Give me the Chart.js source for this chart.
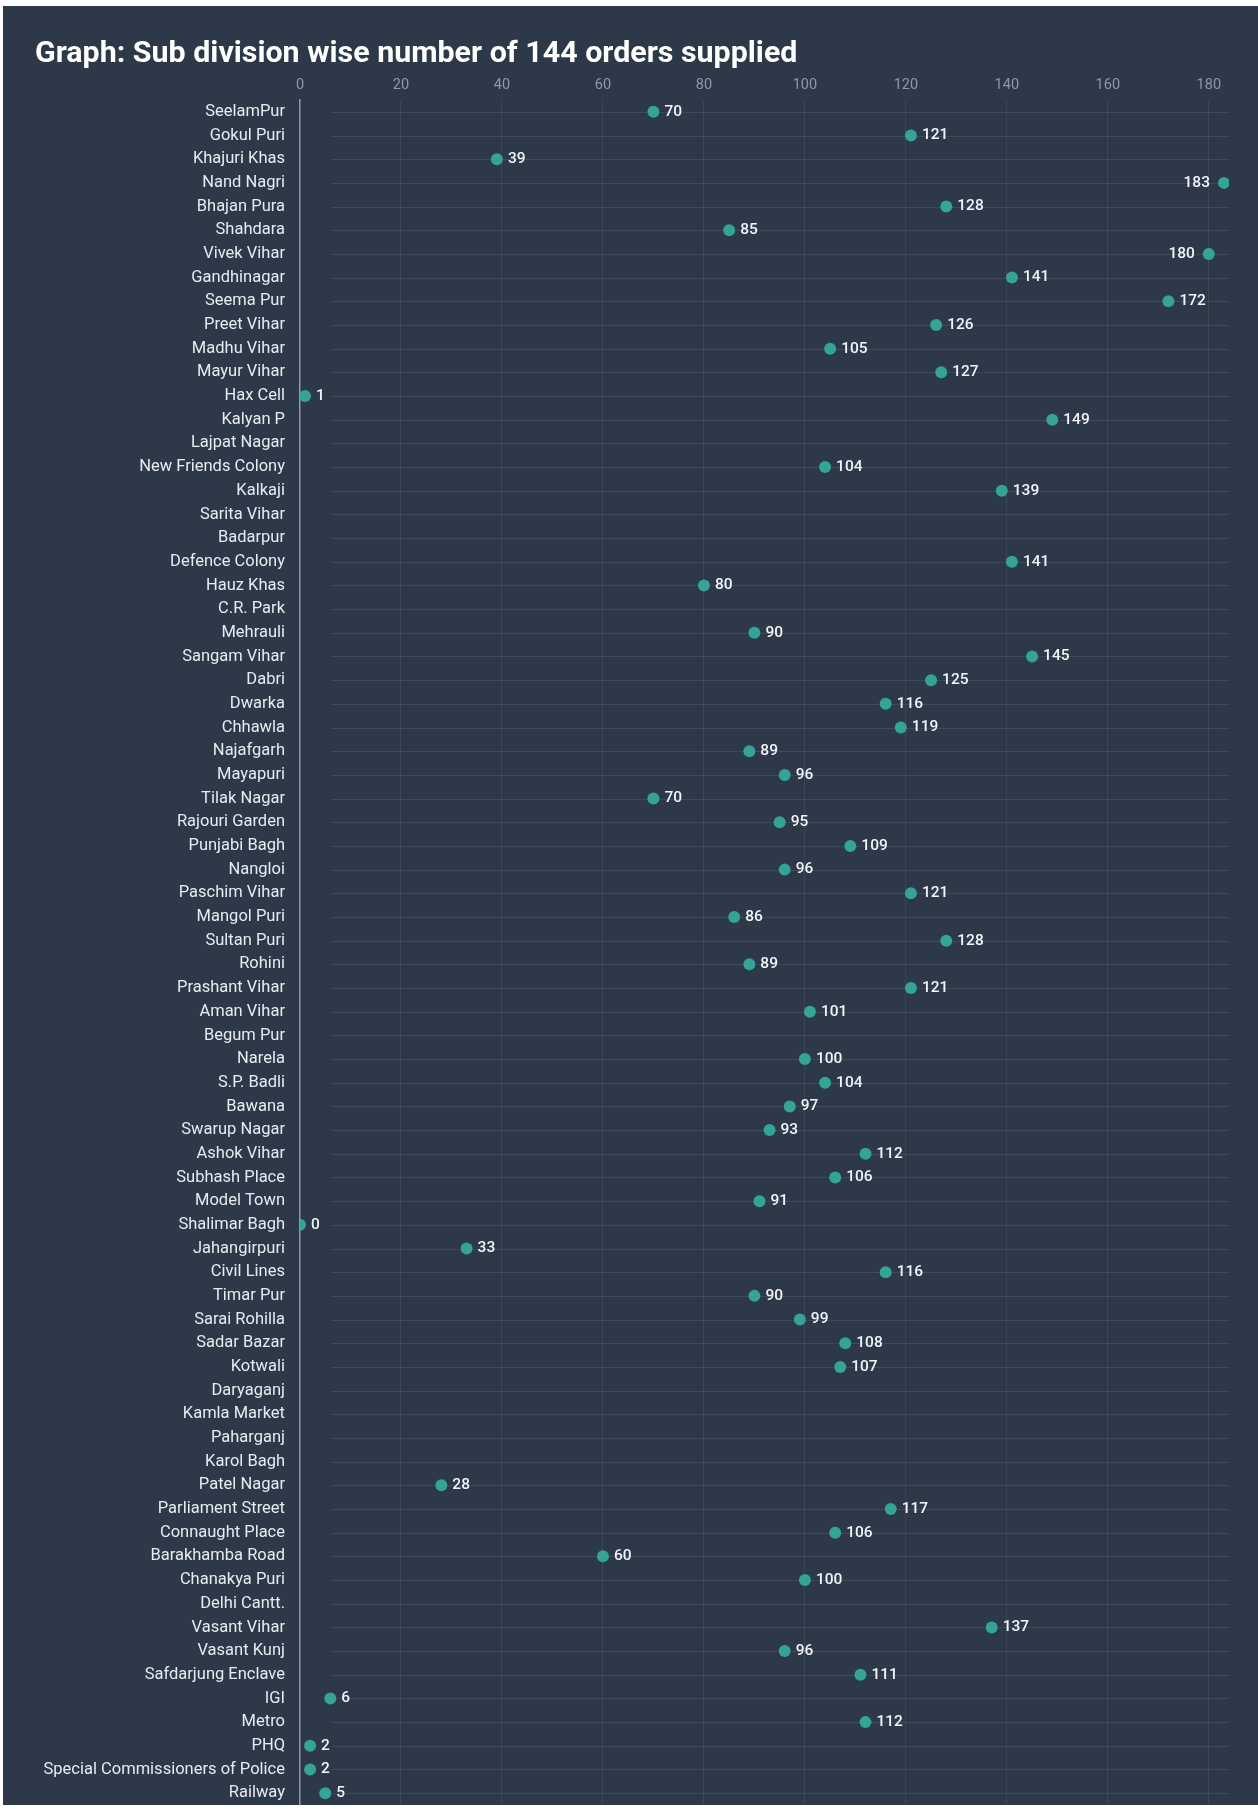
<!DOCTYPE html>
<html>
<head>
<meta charset="utf-8">
<script src="https://cdn.jsdelivr.net/npm/chart.js@4"></script>
<style>
  body { margin: 0; background: #ffffff; }
  #panel {
    position: absolute; left: 3px; top: 6px;
    width: 1255px; height: 1799px;
    background: #2d3849; overflow: hidden;
  }
  #title {
    position: absolute; left: 32px; top: 28px;
    font-family: Roboto, sans-serif; font-weight: bold; font-size: 30.4px; line-height: 36px;
    color: #ffffff; white-space: nowrap;
  }
  #wrap { position: absolute; left: 0; top: 0; width: 1255px; height: 1805px; }
</style>
</head>
<body>
<div id="panel">
  <div id="wrap"><canvas id="dotChart"></canvas></div>
  <div id="title">Graph: Sub division wise number of 144 orders supplied</div>
</div>
<script>
const subDivisions = [
  'SeelamPur', 'Gokul Puri', 'Khajuri Khas', 'Nand Nagri', 'Bhajan Pura', 'Shahdara',
  'Vivek Vihar', 'Gandhinagar', 'Seema Pur', 'Preet Vihar', 'Madhu Vihar', 'Mayur Vihar',
  'Hax Cell', 'Kalyan P', 'Lajpat Nagar', 'New Friends Colony', 'Kalkaji', 'Sarita Vihar',
  'Badarpur', 'Defence Colony', 'Hauz Khas', 'C.R. Park', 'Mehrauli', 'Sangam Vihar',
  'Dabri', 'Dwarka', 'Chhawla', 'Najafgarh', 'Mayapuri', 'Tilak Nagar',
  'Rajouri Garden', 'Punjabi Bagh', 'Nangloi', 'Paschim Vihar', 'Mangol Puri', 'Sultan Puri',
  'Rohini', 'Prashant Vihar', 'Aman Vihar', 'Begum Pur', 'Narela', 'S.P. Badli',
  'Bawana', 'Swarup Nagar', 'Ashok Vihar', 'Subhash Place', 'Model Town', 'Shalimar Bagh',
  'Jahangirpuri', 'Civil Lines', 'Timar Pur', 'Sarai Rohilla', 'Sadar Bazar', 'Kotwali',
  'Daryaganj', 'Kamla Market', 'Paharganj', 'Karol Bagh', 'Patel Nagar', 'Parliament Street',
  'Connaught Place', 'Barakhamba Road', 'Chanakya Puri', 'Delhi Cantt.', 'Vasant Vihar', 'Vasant Kunj',
  'Safdarjung Enclave', 'IGI', 'Metro', 'PHQ', 'Special Commissioners of Police', 'Railway'
];

// null = no value shown for that sub division
const ordersSupplied = [
  70, 121, 39, 183, 128, 85,
  180, 141, 172, 126, 105, 127,
  1, 149, null, 104, 139, null,
  null, 141, 80, null, 90, 145,
  125, 116, 119, 89, 96, 70,
  95, 109, 96, 121, 86, 128,
  89, 121, 101, null, 100, 104,
  97, 93, 112, 106, 91, 0,
  33, 116, 90, 99, 108, 107,
  null, null, null, null, 28, 117,
  106, 60, 100, null, 137, 96,
  111, 6, 112, 2, 2, 5
];

const xTicks = [0, 20, 40, 60, 80, 100, 120, 140, 160, 180];

// horizontal row lines start a little right of the axis, like the original
const rowLines = {
  id: 'rowLines',
  beforeDatasetsDraw(chart) {
    const { ctx, chartArea, scales } = chart;
    const x0 = scales.x.getPixelForValue(6.2);
    ctx.save();
    ctx.strokeStyle = 'rgba(255,255,255,0.09)';
    ctx.lineWidth = 1;
    scales.y.ticks.forEach((t, i) => {
      const y = Math.round(scales.y.getPixelForTick(i)) + 0.5;
      ctx.beginPath();
      ctx.moveTo(x0, y);
      ctx.lineTo(chartArea.right, y);
      ctx.stroke();
    });
    ctx.restore();
  }
};

// value labels next to each dot
const valueLabels = {
  id: 'valueLabels',
  afterDatasetsDraw(chart) {
    const ctx = chart.ctx;
    const meta = chart.getDatasetMeta(0);
    ctx.save();
    ctx.font = '500 15.5px Roboto';
    ctx.fillStyle = '#f2f4f7';
    ctx.textBaseline = 'middle';
    meta.data.forEach((pt, i) => {
      const v = ordersSupplied[i];
      if (v === null) return;
      if (v > 175) {
        ctx.textAlign = 'right';
        ctx.fillText(v, pt.x - 14, pt.y);
      } else {
        ctx.textAlign = 'left';
        ctx.fillText(v, pt.x + 11, pt.y);
      }
    });
    ctx.restore();
  }
};

const ctx = document.getElementById('dotChart').getContext('2d');
new Chart(ctx, {
  type: 'line',
  data: {
    labels: subDivisions,
    datasets: [{
      label: 'Orders supplied',
      data: ordersSupplied,
      showLine: false,
      pointRadius: 6,
      pointHoverRadius: 6,
      pointBorderWidth: 0,
      pointBackgroundColor: '#33a497',
      borderColor: '#33a497'
    }]
  },
  options: {
    indexAxis: 'y',
    responsive: true,
    maintainAspectRatio: false,
    animation: false,
    devicePixelRatio: 1,
    layout: { padding: { left: 0, right: 29, top: 0, bottom: 0 } },
    plugins: {
      legend: { display: false },
      tooltip: { enabled: false }
    },
    scales: {
      x: {
        type: 'linear',
        position: 'top',
        min: 0,
        max: 184,
        afterBuildTicks(scale) {
          scale.ticks = xTicks.map(v => ({ value: v }));
        },
        afterFit(scale) {
          scale.height = 94;
          scale.paddingLeft = 0;
          scale.paddingRight = 0;
        },
        ticks: {
          color: '#8e98a7',
          font: { family: 'Roboto', size: 14.5 },
          padding: 6,
          maxRotation: 0
        },
        grid: {
          drawTicks: false,
          color: ctx => ctx.tick && ctx.tick.value === 0 ? 'rgba(0,0,0,0)' : 'rgba(255,255,255,0.07)'
        },
        border: { display: false }
      },
      y: {
        type: 'category',
        offset: true,
        afterFit(scale) {
          scale.width = 297;
          scale.paddingTop = 0;
          scale.paddingBottom = 0;
        },
        ticks: {
          color: '#e8ebef',
          font: { family: 'Roboto', size: 16.5 },
          padding: 15,
          autoSkip: false
        },
        grid: { display: true, drawOnChartArea: false, drawTicks: false },
        border: { display: true, color: '#8f99a6', width: 1.5 }
      }
    }
  },
  plugins: [rowLines, valueLabels]
});
</script>
</body>
</html>
